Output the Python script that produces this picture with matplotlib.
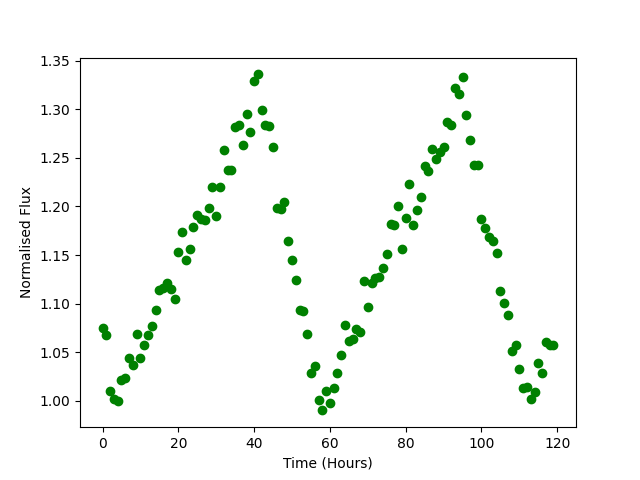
import matplotlib
matplotlib.use('Agg')
import matplotlib.pyplot as plt
import numpy as np

# hourly samples, 0..119 h
hours = np.arange(120)

flux = [
    1.075, 1.068, 1.010, 1.002, 1.000, 1.021, 1.023, 1.044, 1.037, 1.069,
    1.044, 1.057, 1.068, 1.077, 1.093, 1.114, 1.116, 1.121, 1.115, 1.105,
    1.153, 1.174, 1.145, 1.156, 1.179, 1.191, 1.187, 1.186, 1.198, 1.220,
    1.190, 1.220, 1.258, 1.238, 1.238, 1.282, 1.284, 1.263, 1.295, 1.277,
    1.329, 1.336, 1.299, 1.284, 1.283, 1.261, 1.198, 1.197, 1.205, 1.164,
    1.145, 1.124, 1.093, 1.092, 1.069, 1.028, 1.036, 1.001, 0.990, 1.010,
    0.998, 1.013, 1.029, 1.047, 1.078, 1.061, 1.064, 1.074, 1.071, 1.123,
    1.096, 1.121, 1.126, 1.127, 1.137, 1.151, 1.182, 1.181, 1.200, 1.156,
    1.188, 1.223, 1.181, 1.196, 1.210, 1.242, 1.237, 1.259, 1.249, 1.256,
    1.261, 1.287, 1.284, 1.322, 1.316, 1.333, 1.294, 1.268, 1.243, 1.243,
    1.187, 1.178, 1.169, 1.164, 1.152, 1.113, 1.101, 1.088, 1.051, 1.057,
    1.033, 1.013, 1.014, 1.002, 1.009, 1.039, 1.029, 1.060, 1.057, 1.057,
]

plt.figure(figsize=(6.4, 4.8), dpi=100)
plt.plot(hours, flux, 'o', color='green')
plt.xlabel('Time (Hours)')
plt.ylabel('Normalised Flux')
plt.savefig('out.png')
